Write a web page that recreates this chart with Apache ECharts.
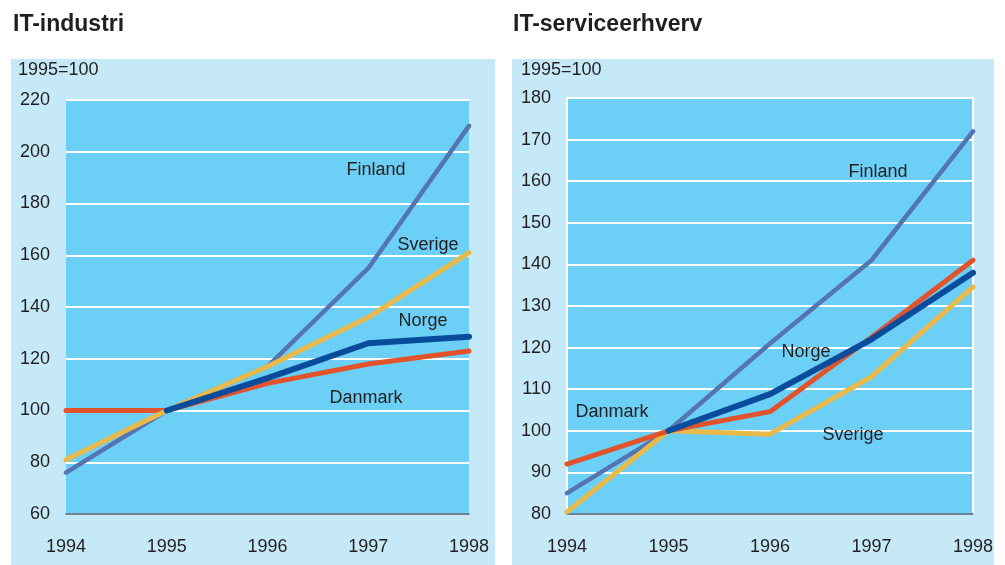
<!DOCTYPE html>
<html>
<head>
<meta charset="utf-8">
<script src="https://cdn.jsdelivr.net/npm/echarts@6/dist/echarts.min.js"></script>
<style>
  html, body { margin: 0; padding: 0; background: #fff; }
  #main { width: 1005px; height: 565px; }
</style>
</head>
<body>
<div id="main"></div>
<script>
// data
const years = ['1994', '1995', '1996', '1997', '1998']

// IT-industri
const indFinland = [76, 100, 117, 155, 210]
const indSverige = [81, 100, 117, 136, 161]
const indNorge = ['-', 100, 112.5, 126, 128.5]
const indDanmark = [100, 100, 110.5, 118, 123]

// IT-serviceerhverv
const serFinland = [85, 100, 121, 141, 172]
const serSverige = [80.5, 100, 99.2, 113, 134.6]
const serNorge = ['-', 100, 108.8, 122, 138]
const serDanmark = [92, 100, 104.6, 122.5, 141]

const font = "'Liberation Sans', Arial, sans-serif"
const ink = '#231f20'

const colors = {
    Finland: '#5574b2',
    Sverige: '#e9b949',
    Norge: '#0a4c9c',
    Danmark: '#e2532b',
}

function lineSeries(name, data, idx, width) {
    return {
        name: name,
        type: 'line',
        data: data,
        xAxisIndex: idx,
        yAxisIndex: idx,
        symbol: 'none',
        silent: true,
        lineStyle: { color: colors[name], width: width, cap: 'round', join: 'round' },
    }
}

function xAxis(idx) {
    return {
        type: 'category',
        gridIndex: idx,
        data: years,
        boundaryGap: false,
        axisTick: { show: false },
        axisLine: { lineStyle: { color: '#3f5a70', width: 1.5 } },
        axisLabel: { color: ink, fontFamily: font, fontSize: 18, margin: 24 },
        splitLine: { show: false },
    }
}

function yAxis(idx, min, max, interval) {
    return {
        type: 'value',
        gridIndex: idx,
        min: min,
        max: max,
        interval: interval,
        axisLine: { show: false },
        axisTick: { show: false },
        axisLabel: { color: ink, fontFamily: font, fontSize: 18, margin: 16 },
        splitLine: { lineStyle: { color: '#ffffff', width: 2 } },
    }
}

function txt(x, y, text, size, bold) {
    return {
        type: 'text',
        x: x,
        y: y,
        z: 100,
        style: {
            text: text,
            fill: ink,
            font: (bold ? 'bold ' : '') + size + 'px ' + font,
            align: 'center',
            verticalAlign: 'middle',
        },
    }
}

let option = {
    backgroundColor: '#ffffff',
    animation: false,
    grid: [
        { left: 66, top: 100, width: 403, height: 414, show: true, backgroundColor: '#6ccff5', borderWidth: 0 },
        { left: 567, top: 98, width: 406, height: 416, show: true, backgroundColor: '#6ccff5', borderColor: '#ffffff', borderWidth: 2 },
    ],
    xAxis: [xAxis(0), xAxis(1)],
    yAxis: [yAxis(0, 60, 220, 20), yAxis(1, 80, 180, 10)],
    graphic: [
        { type: 'rect', z: -10, shape: { x: 11, y: 59, width: 484, height: 506 }, style: { fill: '#c6e9f8' } },
        { type: 'rect', z: -10, shape: { x: 512, y: 59, width: 482, height: 506 }, style: { fill: '#c6e9f8' } },
        { type: 'text', x: 13, y: 25, z: 100, style: { text: 'IT-industri', fill: ink, font: 'bold 23px ' + font, verticalAlign: 'middle' } },
        { type: 'text', x: 513, y: 25, z: 100, style: { text: 'IT-serviceerhverv', fill: ink, font: 'bold 23px ' + font, verticalAlign: 'middle' } },
        { type: 'text', x: 18, y: 70, z: 100, style: { text: '1995=100', fill: ink, font: '18px ' + font, verticalAlign: 'middle' } },
        { type: 'text', x: 521, y: 70, z: 100, style: { text: '1995=100', fill: ink, font: '18px ' + font, verticalAlign: 'middle' } },
        txt(376, 170, 'Finland', 18),
        txt(428, 245, 'Sverige', 18),
        txt(423, 321, 'Norge', 18),
        txt(366, 398, 'Danmark', 18),
        txt(878, 172, 'Finland', 18),
        txt(806, 352, 'Norge', 18),
        txt(612, 412, 'Danmark', 18),
        txt(853, 435, 'Sverige', 18),
    ],
    series: [
        lineSeries('Danmark', indDanmark, 0, 5),
        lineSeries('Finland', indFinland, 0, 4.5),
        lineSeries('Sverige', indSverige, 0, 5),
        lineSeries('Norge', indNorge, 0, 6),
        lineSeries('Finland', serFinland, 1, 4.5),
        lineSeries('Sverige', serSverige, 1, 5),
        lineSeries('Danmark', serDanmark, 1, 5),
        lineSeries('Norge', serNorge, 1, 6),
    ],
}

const mychart = echarts.init(document.getElementById('main'))
mychart.setOption(option)
</script>
</body>
</html>
